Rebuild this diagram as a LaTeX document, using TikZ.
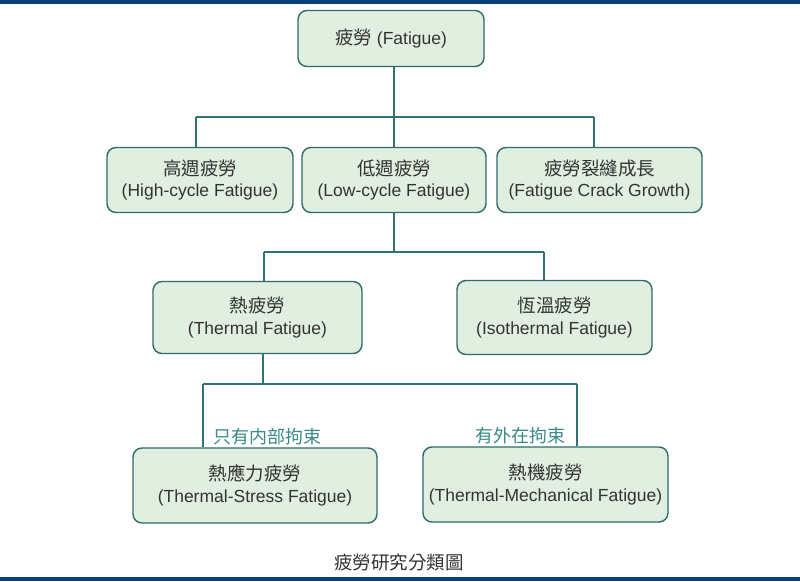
\documentclass[tikz,border=0pt]{standalone}
\usepackage{fontspec}
\setmainfont{Liberation Sans}
\newfontfamily\cjk{Noto Sans CJK TC}
\newcommand{\zh}[1]{{\cjk\fontsize{18.5}{22}\selectfont #1}}
\definecolor{barblue}{HTML}{0B3F7A}
\definecolor{boxfill}{HTML}{E0EFDF}
\definecolor{boxline}{HTML}{2E6B6B}
\definecolor{conn}{HTML}{2F7373}
\definecolor{lbl}{HTML}{3A8A8A}
\definecolor{txt}{HTML}{333333}
\tikzset{
  catbox/.style={draw=boxline, line width=1.4pt, fill=boxfill, rounded corners=9pt,
    align=center, text=txt, inner sep=0pt,
    font=\fontsize{17.5}{21.5}\selectfont},
  link/.style={draw=conn, line width=1.4pt},
  branchlbl/.style={text=lbl, font=\cjk\fontsize{18}{20}\selectfont, inner sep=0pt},
}
\begin{document}
\begin{tikzpicture}[x=1pt,y=-1pt]
\useasboundingbox (0,0) rectangle (800,581);
\fill[white] (0,0) rectangle (800,581);
\fill[barblue] (0,0) rectangle (800,4);
\fill[barblue] (0,577) rectangle (800,581);

% boxes
\node[catbox, minimum width=186pt, minimum height=56pt] (root) at (391,38.5) {\zh{疲勞} (Fatigue)};
\node[catbox, minimum width=186pt, minimum height=65pt] (hc) at (200,180) {\zh{高週疲勞}\\(High-cycle Fatigue)};
\node[catbox, minimum width=184pt, minimum height=65pt] (lc) at (394,180) {\zh{低週疲勞}\\(Low-cycle Fatigue)};
\node[catbox, minimum width=205pt, minimum height=65pt] (cg) at (599.5,180) {\zh{疲勞裂縫成長}\\(Fatigue Crack Growth)};
\node[catbox, minimum width=209pt, minimum height=72pt] (th) at (257.5,317.5) {\zh{熱疲勞}\\(Thermal Fatigue)};
\node[catbox, minimum width=195pt, minimum height=74pt] (iso) at (554.5,317.5) {\zh{恆溫疲勞}\\(Isothermal Fatigue)};
\node[catbox, minimum width=244pt, minimum height=75pt] (ts) at (255,485.5) {\zh{熱應力疲勞}\\(Thermal-Stress Fatigue)};
\node[catbox, minimum width=245pt, minimum height=75pt] (tm) at (545.5,484.5) {\zh{熱機疲勞}\\(Thermal-Mechanical Fatigue)};

% bus coordinates
\coordinate (b1) at (394,117);
\coordinate (b1l) at (196,117);
\coordinate (b1r) at (594,117);
\coordinate (b2) at (394,252);
\coordinate (b2l) at (264,252);
\coordinate (b2r) at (544,252);
\coordinate (b3) at (263,384);
\coordinate (b3l) at (203,384);
\coordinate (b3r) at (577,384);

% connectors
\draw[link] (root.south -| b1) -- (b1);
\draw[link] (b1l) -- (b1r);
\draw[link] (b1l) -- (hc.north -| b1l);
\draw[link] (b1) -- (lc.north -| b1);
\draw[link] (b1r) -- (cg.north -| b1r);

\draw[link] (lc.south -| b2) -- (b2);
\draw[link] (b2l) -- (b2r);
\draw[link] (b2l) -- (th.north -| b2l);
\draw[link] (b2r) -- (iso.north -| b2r);

\draw[link] (th.south -| b3) -- (b3);
\draw[link] (b3l) -- (b3r);
\draw[link] (b3l) -- (ts.north -| b3l);
\draw[link] (b3r) -- (tm.north -| b3r);

% branch labels
\node[branchlbl, anchor=west] (l1) at (213,437) {只有内部拘束};
\node[branchlbl, anchor=east] (l2) at (566,436) {有外在拘束};

% caption
\node[text=txt, font=\cjk\fontsize{18.5}{20}\selectfont, inner sep=0pt] (cap) at (399,562) {疲勞研究分類圖};
\end{tikzpicture}
\end{document}
